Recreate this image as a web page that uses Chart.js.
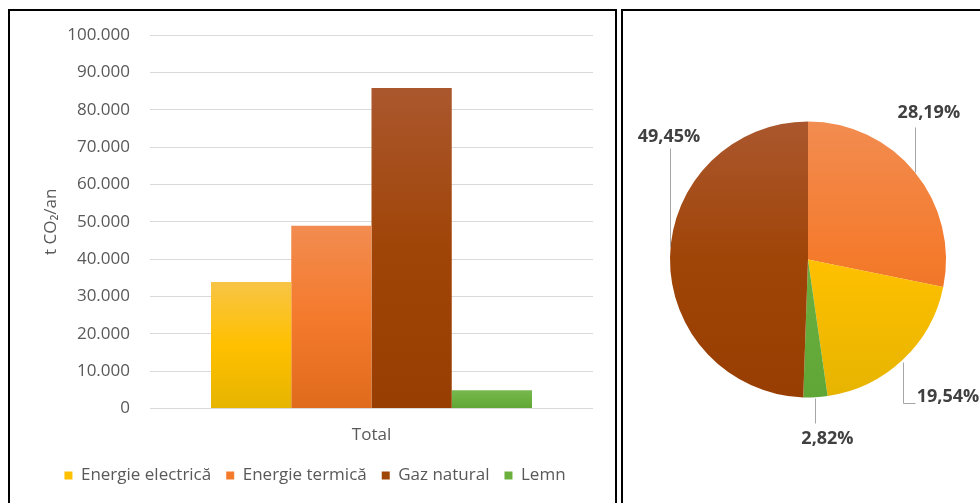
<!DOCTYPE html>
<html>
<head>
<meta charset="utf-8">
<script src="https://cdn.jsdelivr.net/npm/chart.js@4.4.0/dist/chart.umd.min.js"></script>
<style>
  html, body { margin: 0; padding: 0; background: #fff; width: 980px; height: 503px; overflow: hidden; }
  .panel { position: absolute; box-sizing: border-box; border: 2px solid #000; }
  #leftPanel { left: 8px; top: 9px; width: 609px; height: 520px; }
  #rightPanel { left: 621px; top: 9px; width: 400px; height: 520px; }
  canvas { position: absolute; }
  #barChart { left: 11px; top: 11px; }
  #pieChart { left: 624px; top: 11px; }
</style>
</head>
<body>
<div class="panel" id="leftPanel"></div>
<div class="panel" id="rightPanel"></div>
<canvas id="barChart" width="604" height="490"></canvas>
<canvas id="pieChart" width="356" height="490"></canvas>
<script>
// data (t CO2/an)
const categories = ['Energie electrică', 'Energie termică', 'Gaz natural', 'Lemn'];
const emissions = [33900, 48910, 85800, 4890];
const groupLabels = ['Total'];
const yTicks = { min: 0, max: 100000, step: 10000 };
// slice order of the pie, starting at 12 o'clock
const pieOrder = [1, 0, 3, 2];

// colours: [top, middle, bottom] of the vertical gradient
const palette = [
  ['#f8c446', '#ffc000', '#e6b400'],
  ['#f28c50', '#f47a2c', '#e06b1d'],
  ['#ab572e', '#a04508', '#983e02'],
  ['#78b84f', '#6bb03f', '#60a636']
];

const TEXT = '#595959';
const FONT = 'Open Sans';
Chart.defaults.font.family = FONT;

function grad(ctx2d, top, bottom, cols) {
  let g = ctx2d.createLinearGradient(0, top, 0, bottom);
  g.addColorStop(0, cols[0]);
  g.addColorStop(0.5, cols[1]);
  g.addColorStop(1, cols[2]);
  return g;
}

function fmt(v) {
  return String(v).replace(/\B(?=(\d{3})+(?!\d))/g, '.');
}

// bar chart
let barDatasets = categories.map((name, i) => ({
  label: name,
  data: [emissions[i]],
  backgroundColor: (c) => {
    const chart = c.chart;
    if (c.type !== 'data' || !chart.chartArea || !chart.scales.y) return palette[i][1];
    const y = chart.scales.y;
    return grad(chart.ctx, y.getPixelForValue(c.raw), y.getPixelForValue(0), palette[i]);
  },
  borderWidth: 0,
  categoryPercentage: 0.7246,
  barPercentage: 1
}));

let bar = new Chart(document.getElementById('barChart'), {
  type: 'bar',
  data: { labels: groupLabels, datasets: barDatasets },
  options: {
    responsive: false,
    animation: false,
    layout: { padding: { left: 26, top: 24, right: 22, bottom: 7 } },
    plugins: {
      tooltip: { enabled: false },
      legend: {
        position: 'bottom',
        labels: {
          boxWidth: 8,
          boxHeight: 8,
          padding: 15,
          color: TEXT,
          font: { size: 17 },
          generateLabels: (chart) => categories.map((name, i) => ({
            text: name,
            fillStyle: palette[i][1],
            strokeStyle: palette[i][1],
            lineWidth: 0,
            fontColor: TEXT,
            datasetIndex: i
          }))
        }
      }
    },
    scales: {
      x: {
        grid: { display: false },
        border: { display: false },
        ticks: { color: TEXT, font: { size: 17 }, padding: 8 },
        afterFit: (scale) => { scale.height -= 1; }
      },
      y: {
        min: yTicks.min,
        max: yTicks.max,
        ticks: {
          stepSize: yTicks.step,
          padding: 0,
          color: TEXT,
          font: { size: 17 },
          callback: (v) => fmt(v)
        },
        // invisible tick marks keep the labels away from the grid
        grid: { color: '#d9d9d9', drawTicks: true, tickLength: 20, tickColor: 'rgba(0,0,0,0)', lineWidth: 1 },
        border: { display: false },
        title: { display: true, text: 't CO₂/an', color: TEXT, font: { size: 17 } },
        afterFit: (scale) => { scale.width = 113; }
      }
    }
  }
});

// pie chart
const total = emissions.reduce((a, b) => a + b, 0);
let pieLabels = pieOrder.map(i => categories[i]);
let pieValues = pieOrder.map(i => emissions[i]);

// where each percentage sits relative to the slice's edge point
const labelLayout = [
  { dx: 14, dy: -59, align: 'center', line: [[0, 0], [0, -45]] },
  { dx: 14, dy: 37, align: 'left', line: [[0, 2], [0, 43], [12, 43]] },
  { dx: 12, dy: 42, align: 'center', line: [[0, 1], [0, 26]] },
  { dx: -1, dy: -120, align: 'center', line: [[0, -10], [0, -109]] }
];

const pieLabelPlugin = {
  id: 'pieLabels',
  afterDatasetsDraw(chart) {
    const ctx = chart.ctx;
    const meta = chart.getDatasetMeta(0);
    ctx.save();
    meta.data.forEach((arc, k) => {
      const mid = (arc.startAngle + arc.endAngle) / 2;
      const px = arc.x + Math.cos(mid) * arc.outerRadius;
      const py = arc.y + Math.sin(mid) * arc.outerRadius;
      const lay = labelLayout[k];
      ctx.strokeStyle = '#a6a6a6';
      ctx.lineWidth = 1;
      ctx.beginPath();
      lay.line.forEach((p, j) => {
        const x = Math.round(px + p[0]) + 0.5, y = Math.round(py + p[1]) + 0.5;
        if (j === 0) ctx.moveTo(x, y); else ctx.lineTo(x, y);
      });
      ctx.stroke();
      const pct = (pieValues[k] / total * 100).toFixed(2).replace('.', ',') + '%';
      ctx.fillStyle = '#404040';
      ctx.font = 'bold 18px "' + FONT + '"';
      ctx.textAlign = lay.align;
      ctx.textBaseline = 'middle';
      ctx.fillText(pct, px + lay.dx, py + lay.dy);
    });
    ctx.restore();
  }
};

let pie = new Chart(document.getElementById('pieChart'), {
  type: 'pie',
  data: {
    labels: pieLabels,
    datasets: [{
      data: pieValues,
      backgroundColor: (c) => {
        const chart = c.chart;
        const idx = pieOrder[c.dataIndex === undefined ? 0 : c.dataIndex];
        if (c.type !== 'data' || !chart.chartArea) return palette[idx][1];
        return grad(chart.ctx, chart.chartArea.top, chart.chartArea.bottom, palette[idx]);
      },
      borderWidth: 0
    }]
  },
  options: {
    responsive: false,
    animation: false,
    layout: { padding: { left: 46, right: 34, top: 110.5, bottom: 103.5 } },
    plugins: { legend: { display: false }, tooltip: { enabled: false } }
  },
  plugins: [pieLabelPlugin]
});
</script>
</body>
</html>
